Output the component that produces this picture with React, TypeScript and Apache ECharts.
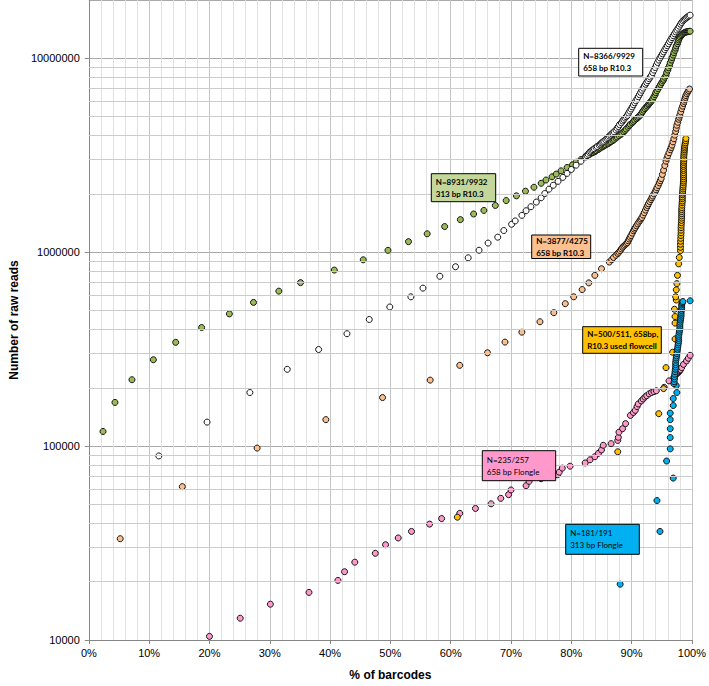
import React, { useEffect, useRef } from "react";
import * as echarts from "echarts";

// ---- Data: [% of barcodes, number of raw reads] ----
const green313R103: [number, number][] = [
  [2.35, 119000], [4.33, 168000], [7.15, 220000], [10.7, 279000], [14.4, 343000], [18.7, 409000],
  [23.3, 481000], [27.3, 551000], [31.5, 630000], [35.1, 697000], [40.7, 809000], [45.5, 914000],
  [49.6, 1023000], [53.0, 1134000], [56.1, 1245000], [59.0, 1357000], [61.6, 1473000], [63.8, 1575000],
  [65.5, 1643000], [67.4, 1743000], [69.2, 1848000], [70.9, 1954000], [72.4, 2065000], [73.8, 2164000],
  [75.0, 2268000], [75.8, 2358000], [76.8, 2450000], [77.5, 2530000], [78.3, 2630000], [79.3, 2737000],
  [80.2, 2823000], [80.8, 2912000], [81.6, 3007000],
  [82.4, 3.13e6], [82.6, 3.15e6], [82.9, 3.18e6], [83.1, 3.21e6], [83.4, 3.25e6], [83.6, 3.27e6],
  [83.9, 3.30e6], [84.1, 3.34e6], [84.4, 3.38e6], [84.6, 3.41e6], [84.8, 3.45e6], [85.1, 3.49e6],
  [85.3, 3.52e6], [85.5, 3.55e6], [85.7, 3.58e6], [86.0, 3.62e6], [86.2, 3.65e6], [86.4, 3.69e6],
  [86.6, 3.72e6], [86.9, 3.77e6], [87.1, 3.82e6], [87.4, 3.88e6], [87.6, 3.93e6], [87.9, 3.99e6],
  [88.2, 4.05e6], [88.4, 4.11e6], [88.7, 4.18e6], [88.9, 4.25e6], [89.1, 4.32e6], [89.4, 4.41e6],
  [89.6, 4.50e6], [89.8, 4.57e6], [90.1, 4.65e6], [90.3, 4.72e6], [90.5, 4.80e6], [90.8, 4.88e6],
  [91.0, 4.95e6], [91.2, 5.01e6], [91.4, 5.08e6], [91.6, 5.19e6], [91.8, 5.30e6], [92.0, 5.40e6],
  [92.2, 5.50e6], [92.4, 5.59e6], [92.6, 5.68e6], [92.8, 5.77e6], [92.9, 5.85e6], [93.1, 5.92e6],
  [93.2, 6.00e6], [93.4, 6.09e6], [93.5, 6.18e6], [93.7, 6.34e6], [93.9, 6.50e6], [94.0, 6.65e6],
  [94.2, 6.80e6], [94.4, 6.97e6], [94.6, 7.15e6], [94.8, 7.32e6], [95.0, 7.50e6], [95.2, 7.65e6],
  [95.3, 7.80e6], [95.5, 7.99e6], [95.7, 8.18e6], [95.8, 8.44e6], [96.0, 8.70e6], [96.1, 8.95e6],
  [96.3, 9.20e6], [96.4, 9.50e6], [96.6, 9.80e6], [96.7, 10.1e6], [96.9, 10.4e6], [97.0, 10.7e6],
  [97.2, 11.0e6], [97.3, 11.3e6], [97.4, 11.6e6], [97.6, 11.9e6], [97.7, 12.2e6], [97.8, 12.45e6],
  [97.9, 12.7e6], [98.05, 12.9e6], [98.2, 13.1e6], [98.35, 13.25e6], [98.5, 13.4e6], [98.65, 13.5e6],
  [98.8, 13.6e6], [98.95, 13.65e6], [99.1, 13.7e6], [99.25, 13.72e6], [99.4, 13.75e6], [99.55, 13.78e6],
  [99.7, 13.8e6],
];

const white658R103: [number, number][] = [
  [11.6, 89000], [19.6, 133000], [26.7, 189000], [32.9, 249000], [38.1, 315000], [42.8, 380000],
  [46.5, 450000], [49.9, 522000], [53.4, 589000], [55.4, 653000], [58.2, 752000], [60.8, 842000],
  [62.9, 936000], [64.7, 1024000], [66.2, 1115000], [67.8, 1196000], [68.8, 1294000], [70.1, 1394000],
  [70.7, 1451000], [71.8, 1550000], [72.5, 1637000], [73.3, 1717000], [74.2, 1814000], [75.0, 1910000],
  [75.6, 2009000], [76.3, 2115000], [77.0, 2215000], [77.8, 2321000], [78.6, 2433000], [79.3, 2551000],
  [80.0, 2674000], [80.8, 2812000], [81.6, 2946000],
  [82.4, 3.10e6], [82.6, 3.15e6], [82.8, 3.20e6], [83.0, 3.27e6], [83.2, 3.31e6], [83.4, 3.35e6],
  [83.6, 3.38e6], [83.8, 3.42e6], [84.1, 3.47e6], [84.3, 3.51e6], [84.6, 3.57e6], [84.8, 3.61e6],
  [85.0, 3.66e6], [85.2, 3.70e6], [85.4, 3.74e6], [85.7, 3.80e6], [85.9, 3.86e6], [86.1, 3.91e6],
  [86.3, 3.97e6], [86.5, 4.02e6], [86.7, 4.08e6], [86.9, 4.13e6], [87.1, 4.18e6], [87.4, 4.27e6],
  [87.6, 4.36e6], [87.8, 4.45e6], [88.0, 4.55e6], [88.3, 4.65e6], [88.5, 4.75e6], [88.7, 4.83e6],
  [88.9, 4.92e6], [89.1, 5.00e6], [89.3, 5.08e6], [89.5, 5.22e6], [89.7, 5.35e6], [89.9, 5.48e6],
  [90.1, 5.62e6], [90.3, 5.76e6], [90.5, 5.90e6], [90.7, 6.04e6], [90.9, 6.18e6], [91.1, 6.34e6],
  [91.3, 6.50e6], [91.5, 6.67e6], [91.7, 6.85e6], [91.9, 7.02e6], [92.1, 7.20e6], [92.3, 7.35e6],
  [92.5, 7.50e6], [92.7, 7.67e6], [92.9, 7.85e6], [93.1, 8.01e6], [93.3, 8.18e6], [93.5, 8.44e6],
  [93.7, 8.70e6], [93.9, 8.97e6], [94.1, 9.25e6], [94.3, 9.52e6], [94.5, 9.80e6], [94.7, 10.05e6],
  [94.9, 10.3e6], [95.1, 10.55e6], [95.3, 10.8e6], [95.5, 11.08e6], [95.7, 11.35e6], [95.9, 11.62e6],
  [96.1, 11.9e6], [96.3, 12.2e6], [96.5, 12.5e6], [96.7, 12.8e6], [96.9, 13.1e6], [97.1, 13.4e6],
  [97.3, 13.7e6], [97.5, 14.0e6], [97.7, 14.3e6], [97.9, 14.65e6], [98.1, 15.0e6], [98.3, 15.3e6],
  [98.5, 15.6e6], [98.7, 15.8e6], [98.9, 16.0e6], [99.1, 16.2e6], [99.3, 16.4e6], [99.5, 16.55e6],
  [99.7, 16.7e6],
];

const orange658R103: [number, number][] = [
  [5.2, 33300], [15.5, 61800], [27.9, 97700], [39.3, 137000], [48.7, 178000], [56.6, 219000],
  [61.5, 261000], [66.1, 303000], [69.0, 344000], [71.8, 387000], [74.8, 438000], [77.1, 488000],
  [79.0, 543000], [80.4, 589000], [81.8, 642000], [82.9, 695000], [83.9, 760000], [85.0, 822000],
  [86.3, 890000], [86.7, 915000], [87.0, 940000], [87.4, 965000],
  [87.7, 0.985e6], [87.9, 1.00e6], [88.1, 1.02e6], [88.3, 1.04e6], [88.5, 1.06e6], [88.7, 1.075e6],
  [88.9, 1.09e6], [89.1, 1.105e6], [89.3, 1.12e6], [89.45, 1.145e6], [89.6, 1.17e6], [89.75, 1.195e6],
  [89.9, 1.22e6], [90.1, 1.255e6], [90.3, 1.29e6], [90.45, 1.315e6], [90.6, 1.34e6], [90.8, 1.37e6],
  [91.0, 1.40e6], [91.2, 1.43e6], [91.4, 1.46e6], [91.55, 1.485e6], [91.7, 1.51e6], [91.9, 1.555e6],
  [92.1, 1.60e6], [92.3, 1.65e6], [92.5, 1.70e6], [92.65, 1.74e6], [92.8, 1.78e6], [93.0, 1.825e6],
  [93.2, 1.87e6], [93.35, 1.91e6], [93.5, 1.95e6], [93.7, 2.00e6], [93.9, 2.05e6], [94.05, 2.10e6],
  [94.2, 2.15e6], [94.4, 2.21e6], [94.6, 2.28e6], [94.75, 2.34e6], [94.9, 2.40e6], [95.1, 2.52e6],
  [95.3, 2.65e6], [95.5, 2.80e6], [95.7, 2.95e6], [95.85, 3.05e6], [96.0, 3.15e6], [96.2, 3.26e6],
  [96.4, 3.38e6], [96.55, 3.47e6], [96.7, 3.57e6], [96.85, 3.71e6], [97.0, 3.85e6], [97.15, 4.02e6],
  [97.3, 4.20e6], [97.4, 4.36e6], [97.5, 4.52e6], [97.65, 4.68e6], [97.8, 4.85e6], [97.9, 4.97e6],
  [98.0, 5.10e6], [98.15, 5.30e6], [98.3, 5.50e6], [98.45, 5.67e6], [98.6, 5.85e6], [98.7, 6.00e6],
  [98.8, 6.15e6], [98.9, 6.29e6], [99.0, 6.43e6], [99.15, 6.57e6], [99.3, 6.70e6], [99.45, 6.82e6],
  [99.6, 6.95e6],
];

const pink658Flongle: [number, number][] = [
  [20.0, 10440], [25.1, 12950], [30.1, 15300], [36.5, 17600], [41.3, 20300], [42.4, 22500],
  [44.1, 25200], [47.5, 28000], [49.2, 31000], [51.3, 33600], [53.5, 36300], [56.5, 39600],
  [58.5, 42300], [61.5, 45000], [64.1, 47700], [66.7, 50400], [68.3, 53800], [69.6, 56200],
  [70.0, 59400], [72.5, 62500], [73.0, 65800], [75.0, 67900], [77.7, 71200], [78.0, 73400],
  [78.5, 77000], [79.8, 78800], [82.3, 81900], [83.1, 85000], [83.9, 88200], [84.5, 91800],
  [85.0, 95500], [85.3, 101000], [86.6, 103000], [87.7, 107000], [87.8, 111000], [87.9, 118000],
  [88.5, 123000], [89.0, 130600], [89.8, 144000], [90.3, 149000], [90.6, 153000], [90.9, 160000],
  [91.1, 165000], [91.6, 171000], [91.9, 175000], [92.2, 179000], [92.5, 182000], [92.9, 186000],
  [93.3, 189000], [93.7, 191000], [94.1, 193000], [95.4, 201000], [96.2, 217000], [97.0, 226000],
  [97.5, 236000], [97.7, 239000], [97.8, 242000], [98.0, 245000], [98.1, 248000], [98.3, 254000],
  [98.6, 264000], [99.1, 275000], [99.4, 284000], [99.7, 294000],
];

const yellow658Used: [number, number][] = [
  [61.1, 43000], [87.7, 93500], [94.5, 147000], [95.3, 198000], [95.7, 254000], [96.8, 305000],
  [97.2, 357000], [97.2, 431000], [97.2, 466000], [97.1, 508000], [97.4, 567000], [97.3, 589000],
  [97.4, 640000], [97.5, 689000], [97.6, 760000], [97.8, 871000], [97.9, 940000],
  [98.1, 1.02e6], [98.1, 1.06e6], [98.1, 1.10e6], [98.12, 1.14e6], [98.15, 1.18e6], [98.17, 1.22e6],
  [98.2, 1.26e6], [98.2, 1.30e6], [98.2, 1.34e6], [98.22, 1.38e6], [98.25, 1.42e6], [98.27, 1.46e6],
  [98.3, 1.50e6], [98.3, 1.54e6], [98.3, 1.58e6], [98.3, 1.62e6], [98.3, 1.66e6], [98.32, 1.70e6],
  [98.35, 1.75e6], [98.37, 1.80e6], [98.4, 1.84e6], [98.4, 1.89e6], [98.4, 1.93e6], [98.42, 1.98e6],
  [98.45, 2.02e6], [98.47, 2.07e6], [98.5, 2.12e6], [98.52, 2.17e6], [98.55, 2.22e6], [98.57, 2.28e6],
  [98.6, 2.33e6], [98.6, 2.39e6], [98.6, 2.45e6], [98.6, 2.51e6], [98.6, 2.57e6], [98.6, 2.64e6],
  [98.6, 2.70e6], [98.6, 2.77e6], [98.6, 2.83e6], [98.62, 2.90e6], [98.65, 2.96e6], [98.65, 3.03e6],
  [98.65, 3.10e6], [98.67, 3.17e6], [98.7, 3.24e6], [98.72, 3.31e6], [98.75, 3.38e6], [98.77, 3.45e6],
  [98.8, 3.52e6], [98.85, 3.60e6], [98.9, 3.67e6], [98.95, 3.76e6], [99.0, 3.86e6],
];

const blue313Flongle: [number, number][] = [
  [88.1, 19400], [94.7, 36300], [94.2, 52400], [96.9, 68400], [95.8, 83800], [96.4, 96800],
  [96.4, 110700], [96.4, 123000], [96.4, 137000], [96.4, 148000], [96.9, 162000], [96.9, 176000],
  [97.5, 189000], [97.4, 205000], [97.0, 210000], [97.05, 215000], [97.1, 222000], [97.1, 228000],
  [97.15, 235000], [97.2, 242000], [97.25, 249000], [97.3, 256000], [97.3, 263000], [97.3, 270000],
  [97.35, 278000], [97.4, 285000], [97.45, 292000], [97.5, 300000], [97.55, 308000], [97.6, 316000],
  [97.65, 324000], [97.7, 333000], [97.75, 341000], [97.8, 350000], [97.8, 359000], [97.8, 368000],
  [97.85, 377000], [97.9, 387000], [97.95, 396000], [98.0, 406000], [98.0, 416000], [98.0, 426000],
  [98.05, 436000], [98.1, 447000], [98.15, 457000], [98.2, 468000], [98.2, 479000], [98.2, 490000],
  [98.25, 501000], [98.3, 512000], [98.3, 523000], [98.3, 535000], [98.35, 545000], [98.4, 550000],
  [98.5, 557000], [99.7, 562000],
];

const xTickSuffix = "%";
const yDecades = [10000, 100000, 1000000, 10000000];

const labelBoxes = [
  { x: 578.7, y: 48.3, w: 64, h: 27.7, fill: "#FFFFFF", text: "N=8366/9929\n658 bp R10.3", bold: true },
  { x: 431.3, y: 173.7, w: 64.4, h: 28, fill: "#C4D79B", text: "N=8931/9932\n313 bp R10.3", bold: true },
  { x: 531.7, y: 235, w: 59, h: 23.5, fill: "#FAC090", text: "N=3877/4275\n658 bp R10.3", bold: true },
  { x: 582.7, y: 326.7, w: 78.6, h: 26.6, fill: "#FFC000", text: "N=500/511, 658bp,\nR10.3 used flowcell", bold: true },
  { x: 482.3, y: 450.7, w: 73.4, h: 30, fill: "#FF99CC", text: "N=235/257\n658 bp Flongle", bold: false },
  { x: 565.7, y: 524.3, w: 73.6, h: 30, fill: "#00B0F0", text: "N=181/191\n313 bp Flongle", bold: false },
];

function scatter(name: string, data: [number, number][], color: string) {
  return {
    type: "scatter",
    name,
    data,
    symbol: "circle",
    symbolSize: 6,
    clip: false,
    silent: true,
    large: false,
    itemStyle: { color, borderColor: "#141414", borderWidth: 1, opacity: 1 },
  };
}

export default function App() {
  const ref = useRef<HTMLDivElement>(null);
  useEffect(() => {
    document.body.style.margin = "0";
    if (!ref.current) return;
    const chart = echarts.init(ref.current, undefined, { renderer: "svg" });

    const minorY: { yAxis: number }[] = [];
    yDecades.forEach((d) => {
      for (let k = 2; k <= 9; k++) {
        const v = k * d;
        if (v < 20000000) minorY.push({ yAxis: v });
      }
    });

    const graphic: any[] = [];
    labelBoxes.forEach((b) => {
      graphic.push({
        type: "rect",
        shape: { x: b.x, y: b.y, width: b.w, height: b.h },
        style: { fill: b.fill, stroke: "#000", lineWidth: 1 },
        z: 100,
      });
      graphic.push({
        type: "text",
        x: b.x + 4.5,
        y: b.y + b.h / 2,
        z: 101,
        style: {
          text: b.text,
          fill: "#000",
          fontFamily: "Lato, 'Open Sans', sans-serif",
          fontSize: 8,
          fontWeight: b.bold ? "bold" : "normal",
          lineHeight: 12,
          align: "left",
          verticalAlign: "middle",
        },
      });
    });

    chart.setOption({
      animation: false,
      backgroundColor: "#ffffff",
      grid: { left: 73, right: 13, top: 0, bottom: 39, containLabel: false },
      xAxis: {
        type: "value",
        min: 0,
        max: 100,
        interval: 10,
        name: "% of barcodes",
        nameLocation: "middle",
        nameGap: 29,
        nameTextStyle: { fontFamily: "Liberation Sans, Arial", fontSize: 12, fontWeight: "bold", color: "#000" },
        axisLine: { show: true, lineStyle: { color: "#868686", width: 1 } },
        axisTick: { show: true, length: 4, lineStyle: { color: "#868686" } },
        axisLabel: {
          formatter: (v: number) => `${v}${xTickSuffix}`,
          fontFamily: "Liberation Sans, Arial",
          fontSize: 11,
          color: "#000",
          margin: 7,
        },
        splitLine: { show: true, lineStyle: { color: "#c4c4c4", width: 1 } },
        minorTick: { show: false, splitNumber: 5 },
        minorSplitLine: { show: true, lineStyle: { color: "#e1e1e1", width: 1 } },
      },
      yAxis: {
        type: "log",
        logBase: 10,
        min: 10000,
        max: 20000000,
        name: "Number of raw reads",
        nameLocation: "middle",
        nameGap: 60,
        nameTextStyle: { fontFamily: "Liberation Sans, Arial", fontSize: 12, fontWeight: "bold", color: "#000" },
        axisLine: { show: true, lineStyle: { color: "#868686", width: 1 } },
        axisTick: { show: true, length: 4, lineStyle: { color: "#868686" } },
        axisLabel: {
          showMaxLabel: false,
          formatter: (v: number) => {
            const l = Math.log10(v);
            return Math.abs(l - Math.round(l)) < 1e-6 ? String(Math.round(v)) : "";
          },
          fontFamily: "Liberation Sans, Arial",
          fontSize: 11,
          color: "#000",
          margin: 9,
        },
        splitLine: { show: true, lineStyle: { color: "#a9a9a9", width: 1 } },
      },
      series: [
        {
          type: "scatter",
          data: [],
          silent: true,
          z: 1,
          markLine: {
            silent: true,
            symbol: ["none", "none"],
            label: { show: false },
            animation: false,
            lineStyle: { color: "#cccccc", type: "solid", width: 1 },
            data: minorY,
          },
        },
        scatter("8931/9932 313 bp R10.3", green313R103, "#9BBB59"),
        scatter("8366/9929 658 bp R10.3", white658R103, "#FFFFFF"),
        scatter("3877/4275 658 bp R10.3", orange658R103, "#FAC090"),
        scatter("235/257 658 bp Flongle", pink658Flongle, "#FF99CC"),
        scatter("500/511 658bp R10.3 used flowcell", yellow658Used, "#FFC000"),
        scatter("181/191 313 bp Flongle", blue313Flongle, "#00B0F0"),
      ],
      graphic,
    });
    return () => chart.dispose();
  }, []);
  return <div ref={ref} style={{ width: 709, height: 686 }} />;
}
